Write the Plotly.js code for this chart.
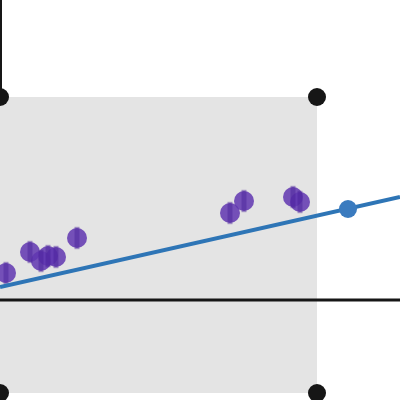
<!DOCTYPE html>
<html>
<head>
<meta charset="utf-8">
<script src="https://cdn.plot.ly/plotly-3.0.1.min.js"></script>
<style>html,body{margin:0;padding:0;background:#fff}#chart{width:400px;height:400px}</style>
</head>
<body>
<div id="chart"></div>
<script>
// Observations
const obsX = [6, 30, 41, 48, 56, 77, 230, 244, 293, 300];
const obsY = [127, 148, 139, 144, 143, 162, 187, 199, 203, 198];
// Fitted line endpoints and predicted point
const fitX = [0, 400];
const fitY = [113, 203];
const predX = [348];
const predY = [191];
// Corner points of the region
const cornerX = [0, 317, 0, 317];
const cornerY = [303, 303, 7, 7];
const regionX = [0, 317];
const regionY = [7, 303];
const baselineY = 100;

const purple = 'rgba(96,54,176,0.85)';
const traces = [
  {x: obsX, y: obsY, mode: 'markers', type: 'scatter',
   marker: {size: 20, color: purple, line: {width: 0}}},
  {x: obsX, y: obsY, mode: 'markers', type: 'scatter',
   marker: {size: 16, symbol: 'line-ns-open', color: 'rgba(70,30,150,0.45)', line: {width: 5, color: 'rgba(70,30,150,0.45)'}}},
  {x: fitX, y: fitY, mode: 'lines', type: 'scatter',
   line: {color: '#2e75b6', width: 4}},
  {x: predX, y: predY, mode: 'markers', type: 'scatter',
   marker: {size: 18, color: '#3a7bbf'}},
  {x: cornerX, y: cornerY, mode: 'markers', type: 'scatter',
   marker: {size: 18, color: '#161616'}, cliponaxis: true}
];

const layout = {
  width: 400, height: 400, autosize: false,
  margin: {l: 0, r: 0, t: 0, b: 0, pad: 0},
  paper_bgcolor: '#ffffff', plot_bgcolor: '#ffffff',
  showlegend: false,
  xaxis: {range: [0, 400], showgrid: false, zeroline: false, showticklabels: false, ticks: '', showline: false},
  yaxis: {range: [0, 400], showgrid: false, zeroline: false, showticklabels: false, ticks: '', showline: false},
  shapes: [
    {type: 'rect', xref: 'x', yref: 'y', x0: regionX[0], x1: regionX[1], y0: regionY[0], y1: regionY[1],
     fillcolor: '#e4e4e4', line: {width: 0}, layer: 'below'},
    {type: 'line', xref: 'x', yref: 'y', x0: 0, x1: 400, y0: baselineY, y1: baselineY,
     line: {color: '#161616', width: 3}, layer: 'above'},
    {type: 'line', xref: 'x', yref: 'y', x0: 0, x1: 0, y0: regionY[1], y1: 400,
     line: {color: '#161616', width: 4}, layer: 'below'}
  ]
};

Plotly.newPlot('chart', traces, layout, {displayModeBar: false, staticPlot: true});
</script>
</body>
</html>
